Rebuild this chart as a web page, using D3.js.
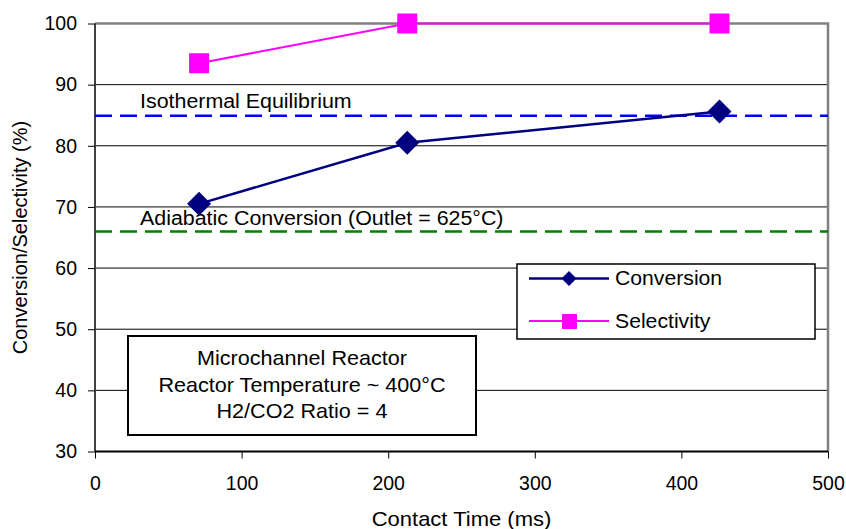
<!DOCTYPE html>
<html lang="en">
<head>
  <meta charset="utf-8">
  <title>Conversion / Selectivity vs Contact Time</title>
  <script src="https://d3js.org/d3.v7.min.js"></script>
  <style>
    body { margin: 0; background: #fff; }
    text { font-family: Arial, "Liberation Sans", sans-serif; fill: #000; }
  </style>
</head>
<body>
<script>
  // data
  var contactTime = [71, 213, 426];
  var conversion = [70.5, 80.5, 85.6];
  var selectivity = [93.5, 100, 100];
  var isothermalEq = 84.9;
  var adiabaticConv = 66.0;
  var xTicks = [0, 100, 200, 300, 400, 500];
  var yTicks = [30, 40, 50, 60, 70, 80, 90, 100];
  var boxLines = ['Microchannel Reactor', 'Reactor Temperature ~ 400°C', 'H2/CO2 Ratio = 4'];

  var w = 846, h = 529;
  var margin = {top: 23.5, right: 18, bottom: 77.5, left: 95};
  var innerW = w - margin.left - margin.right,
      innerH = h - margin.top - margin.bottom;

  // the original text is a bit wider than Arial, stretch it sideways
  function addText(parent, x, y, str, sx, anchor) {
    return parent.append('text')
      .attr('transform', 'translate(' + [x, y] + ') scale(' + sx + ',1)')
      .attr('text-anchor', anchor || 'start')
      .style('font-size', '20px')
      .text(str);
  }

  var svg = d3.select('body').append('svg')
      .attr('width', w)
      .attr('height', h);
  var g = svg.append('g')
      .attr('transform', 'translate(' + [margin.left, margin.top] + ')');

  var x = d3.scaleLinear().domain([0, 500]).range([0, innerW]);
  var y = d3.scaleLinear().domain([30, 100]).range([innerH, 0]);

  // gridlines
  g.selectAll('.grid').data(yTicks.filter(function(d){ return d > 30 && d < 100; }))
    .enter().append('line')
      .attr('x1', 0).attr('x2', innerW)
      .attr('y1', function(d){ return y(d); }).attr('y2', function(d){ return y(d); })
      .style('stroke', '#000').style('stroke-width', 1);

  // plot border top/right (grey)
  g.append('path')
    .attr('d', 'M0,' + y(100) + 'H' + innerW + 'V' + innerH)
    .style('fill', 'none').style('stroke', '#808080').style('stroke-width', 2.5);

  // axes
  var yAxis = d3.axisLeft(y).tickValues(yTicks).tickSize(7).tickPadding(11);
  var xAxis = d3.axisBottom(x).tickValues(xTicks).tickSize(7).tickPadding(18);
  var ya = g.append('g').call(yAxis);
  var xa = g.append('g').attr('transform', 'translate(0,' + innerH + ')').call(xAxis);
  [ya, xa].forEach(function(a) {
    a.select('.domain').style('stroke', '#404040').style('stroke-width', 2);
    a.selectAll('.tick line').style('stroke', '#000');
    a.selectAll('.tick text').style('font-size', '19.5px')
      .style('font-family', 'Arial, "Liberation Sans", sans-serif');
  });
  ya.select('.domain').attr('d', 'M0,' + innerH + 'V' + y(100));
  xa.select('.domain').attr('d', 'M0,0H' + innerW).style('stroke', '#000');

  // reference lines
  g.append('line')
    .attr('x1', 0).attr('x2', innerW)
    .attr('y1', y(isothermalEq)).attr('y2', y(isothermalEq))
    .style('stroke', '#0000FF').style('stroke-width', 2.5)
    .style('stroke-dasharray', '17,8');
  g.append('line')
    .attr('x1', 0).attr('x2', innerW)
    .attr('y1', y(adiabaticConv)).attr('y2', y(adiabaticConv))
    .style('stroke', '#008000').style('stroke-width', 2.5)
    .style('stroke-dasharray', '17,8');

  // labels for reference lines
  addText(g, 45, y(isothermalEq) - 8, 'Isothermal Equilibrium', 1.07);
  // second line is mostly hidden in the original, only its top shows
  g.append('clipPath').attr('id', 'peek')
    .append('rect').attr('x', 0).attr('y', y(isothermalEq) + 4).attr('width', innerW).attr('height', 4);
  addText(g, 45, y(isothermalEq) + 19, 'Conversion', 1.07)
    .attr('clip-path', 'url(#peek)');
  addText(g, 45, y(adiabaticConv) - 6, 'Adiabatic Conversion (Outlet = 625°C)', 1.07);

  // series
  var convData = contactTime.map(function(t, i){ return {x: t, y: conversion[i]}; });
  var selData = contactTime.map(function(t, i){ return {x: t, y: selectivity[i]}; });
  var line = d3.line()
    .x(function(d){ return x(d.x); })
    .y(function(d){ return y(d.y); });

  g.append('path').datum(selData)
    .attr('d', line)
    .style('fill', 'none').style('stroke', '#FF00FF').style('stroke-width', 2);
  g.selectAll('.sel').data(selData).enter().append('rect')
    .attr('x', function(d){ return x(d.x) - 10; })
    .attr('y', function(d){ return y(d.y) - 10; })
    .attr('width', 20).attr('height', 20)
    .style('fill', '#FF00FF');

  g.append('path').datum(convData)
    .attr('d', line)
    .style('fill', 'none').style('stroke', '#000080').style('stroke-width', 2.5);
  g.selectAll('.conv').data(convData).enter().append('path')
    .attr('transform', function(d){ return 'translate(' + x(d.x) + ',' + y(d.y) + ')'; })
    .attr('d', 'M0,-12L12,0L0,12L-12,0Z')
    .style('fill', '#000080');

  // legend
  var lg = svg.append('g').attr('transform', 'translate(517,264)');
  lg.append('rect').attr('width', 298).attr('height', 75)
    .style('fill', '#fff').style('stroke', '#000').style('stroke-width', 1.5);
  lg.append('line').attr('x1', 12).attr('x2', 92).attr('y1', 14.5).attr('y2', 14.5)
    .style('stroke', '#000080').style('stroke-width', 2.5);
  lg.append('path').attr('transform', 'translate(52,14.5)')
    .attr('d', 'M0,-7.5L7.5,0L0,7.5L-7.5,0Z').style('fill', '#000080');
  addText(lg, 98, 21, 'Conversion', 1.06);
  lg.append('line').attr('x1', 12).attr('x2', 92).attr('y1', 57).attr('y2', 57)
    .style('stroke', '#FF00FF').style('stroke-width', 2);
  lg.append('rect').attr('x', 45).attr('y', 50).attr('width', 15).attr('height', 15)
    .style('fill', '#FF00FF');
  addText(lg, 98, 64, 'Selectivity', 1.06);

  // annotation box
  var bx = svg.append('g').attr('transform', 'translate(128,336)');
  bx.append('rect').attr('width', 348).attr('height', 99)
    .style('fill', '#fff').style('stroke', '#000').style('stroke-width', 2);
  boxLines.forEach(function(d, i) {
    addText(bx, 174, 29 + i * 26.5, d, 1.08, 'middle');
  });

  // axis titles
  addText(svg, margin.left + innerW / 2, 526, 'Contact Time (ms)', 1.1, 'middle');
  svg.append('text')
    .attr('transform', 'translate(27,' + (margin.top + innerH / 2) + ') rotate(-90)')
    .attr('text-anchor', 'middle')
    .style('font-size', '20px')
    .text('Conversion/Selectivity (%)');
</script>
</body>
</html>
